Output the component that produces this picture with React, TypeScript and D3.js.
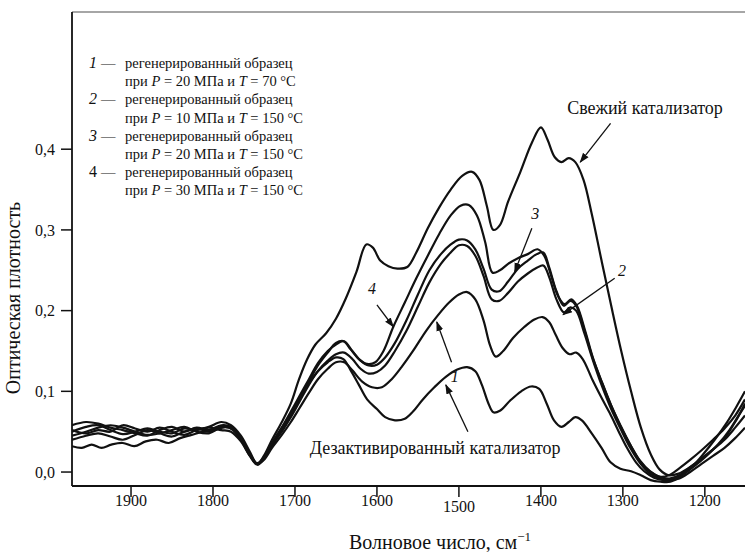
import React from 'react';
import * as d3 from 'd3';

type Pt = [number, number];

const freshCatalyst: Pt[] = [[1972,0.050],[1955,0.056],[1940,0.058],[1925,0.052],[1910,0.047],[1895,0.050],[1880,0.054],[1865,0.050],[1850,0.048],[1835,0.054],[1820,0.052],[1805,0.056],[1790,0.062],[1778,0.058],[1766,0.045],[1755,0.025],[1746,0.010],[1738,0.020],[1728,0.040],[1716,0.062],[1705,0.085],[1695,0.115],[1685,0.140],[1675,0.158],[1662,0.172],[1650,0.19],[1638,0.215],[1625,0.248],[1613,0.282],[1605,0.278],[1596,0.262],[1586,0.255],[1575,0.252],[1563,0.254],[1552,0.272],[1538,0.302],[1524,0.328],[1510,0.350],[1496,0.367],[1484,0.372],[1475,0.362],[1466,0.330],[1458,0.300],[1450,0.306],[1440,0.335],[1425,0.372],[1411,0.408],[1400,0.427],[1392,0.412],[1383,0.390],[1375,0.384],[1366,0.389],[1358,0.384],[1348,0.362],[1338,0.320],[1326,0.262],[1314,0.205],[1302,0.150],[1290,0.100],[1278,0.055],[1266,0.022],[1255,0.003],[1244,-0.004],[1232,-0.002],[1218,0.006],[1204,0.016],[1190,0.028],[1176,0.042],[1163,0.062],[1151,0.085]];

const regen4: Pt[] = [[1972,0.058],[1955,0.062],[1940,0.060],[1925,0.055],[1910,0.052],[1895,0.048],[1880,0.045],[1865,0.052],[1850,0.056],[1835,0.050],[1820,0.055],[1805,0.052],[1790,0.058],[1778,0.056],[1766,0.042],[1755,0.022],[1746,0.010],[1738,0.018],[1728,0.035],[1716,0.055],[1705,0.075],[1694,0.095],[1683,0.115],[1672,0.135],[1660,0.150],[1650,0.158],[1641,0.162],[1632,0.152],[1622,0.140],[1612,0.134],[1602,0.136],[1592,0.150],[1580,0.180],[1566,0.210],[1552,0.240],[1538,0.268],[1524,0.295],[1510,0.318],[1498,0.330],[1488,0.331],[1478,0.318],[1468,0.285],[1459,0.247],[1450,0.250],[1440,0.258],[1428,0.265],[1416,0.270],[1404,0.276],[1396,0.268],[1388,0.245],[1379,0.218],[1371,0.208],[1363,0.214],[1356,0.206],[1346,0.175],[1336,0.140],[1325,0.110],[1314,0.082],[1302,0.055],[1290,0.032],[1278,0.012],[1266,0.000],[1254,-0.006],[1244,-0.004],[1232,0.004],[1218,0.015],[1204,0.027],[1190,0.040],[1176,0.054],[1163,0.070],[1151,0.090]];

const regen3: Pt[] = [[1972,0.045],[1955,0.050],[1940,0.055],[1925,0.058],[1910,0.055],[1895,0.050],[1880,0.046],[1865,0.048],[1850,0.052],[1835,0.056],[1820,0.050],[1805,0.048],[1790,0.055],[1778,0.054],[1766,0.040],[1755,0.020],[1746,0.009],[1738,0.016],[1728,0.032],[1716,0.052],[1705,0.072],[1694,0.092],[1683,0.112],[1672,0.132],[1660,0.148],[1650,0.160],[1640,0.162],[1630,0.150],[1620,0.138],[1610,0.132],[1600,0.133],[1590,0.142],[1578,0.160],[1564,0.188],[1550,0.220],[1536,0.250],[1522,0.270],[1510,0.282],[1500,0.288],[1490,0.287],[1480,0.276],[1470,0.252],[1460,0.226],[1451,0.224],[1440,0.236],[1428,0.252],[1416,0.262],[1405,0.270],[1397,0.272],[1390,0.254],[1381,0.224],[1372,0.206],[1364,0.212],[1357,0.206],[1347,0.176],[1337,0.142],[1326,0.112],[1315,0.084],[1303,0.058],[1291,0.034],[1279,0.014],[1267,0.001],[1255,-0.006],[1243,-0.008],[1231,-0.004],[1218,0.006],[1204,0.017],[1190,0.028],[1176,0.040],[1163,0.055],[1151,0.070]];

const regen2: Pt[] = [[1972,0.052],[1955,0.048],[1940,0.052],[1925,0.050],[1910,0.058],[1895,0.054],[1880,0.050],[1865,0.055],[1850,0.050],[1835,0.046],[1820,0.052],[1805,0.055],[1790,0.052],[1778,0.050],[1766,0.038],[1755,0.020],[1746,0.010],[1738,0.017],[1728,0.034],[1716,0.050],[1705,0.068],[1694,0.088],[1683,0.108],[1672,0.125],[1660,0.138],[1650,0.146],[1640,0.148],[1630,0.140],[1620,0.128],[1610,0.122],[1600,0.124],[1590,0.132],[1578,0.150],[1564,0.175],[1550,0.205],[1536,0.235],[1522,0.258],[1510,0.272],[1500,0.281],[1490,0.280],[1480,0.268],[1470,0.243],[1460,0.214],[1451,0.212],[1440,0.222],[1428,0.236],[1416,0.246],[1405,0.253],[1397,0.256],[1390,0.242],[1381,0.214],[1372,0.198],[1364,0.204],[1357,0.200],[1347,0.172],[1337,0.140],[1326,0.108],[1315,0.080],[1303,0.054],[1291,0.030],[1279,0.011],[1267,-0.002],[1255,-0.008],[1243,-0.010],[1231,-0.008],[1218,0.000],[1204,0.010],[1190,0.020],[1176,0.030],[1163,0.042],[1151,0.055]];

const regen1: Pt[] = [[1972,0.040],[1955,0.045],[1940,0.048],[1925,0.044],[1910,0.040],[1895,0.046],[1880,0.052],[1865,0.048],[1850,0.044],[1835,0.050],[1820,0.054],[1805,0.050],[1790,0.057],[1778,0.055],[1766,0.041],[1755,0.021],[1746,0.010],[1738,0.015],[1728,0.030],[1716,0.046],[1705,0.062],[1694,0.080],[1683,0.098],[1672,0.115],[1660,0.128],[1650,0.136],[1640,0.136],[1630,0.126],[1618,0.112],[1606,0.105],[1594,0.105],[1582,0.115],[1570,0.130],[1556,0.150],[1540,0.175],[1525,0.195],[1512,0.210],[1500,0.220],[1490,0.223],[1480,0.214],[1470,0.188],[1462,0.157],[1455,0.143],[1446,0.150],[1434,0.166],[1420,0.180],[1408,0.189],[1398,0.192],[1390,0.186],[1382,0.170],[1373,0.153],[1365,0.146],[1357,0.148],[1349,0.140],[1337,0.114],[1326,0.092],[1316,0.073],[1305,0.050],[1295,0.030],[1284,0.012],[1274,0.001],[1262,-0.007],[1250,-0.010],[1238,-0.008],[1226,-0.002],[1212,0.008],[1198,0.020],[1184,0.034],[1170,0.052],[1160,0.068],[1151,0.082]];

const deactivated: Pt[] = [[1972,0.032],[1960,0.030],[1948,0.034],[1936,0.030],[1924,0.034],[1910,0.036],[1896,0.032],[1882,0.038],[1868,0.040],[1854,0.036],[1840,0.042],[1826,0.046],[1812,0.050],[1798,0.052],[1785,0.056],[1775,0.052],[1764,0.040],[1755,0.022],[1746,0.011],[1738,0.018],[1728,0.036],[1716,0.055],[1705,0.072],[1694,0.092],[1683,0.110],[1672,0.125],[1660,0.136],[1650,0.142],[1641,0.140],[1632,0.126],[1622,0.108],[1612,0.090],[1600,0.078],[1590,0.068],[1578,0.064],[1566,0.066],[1556,0.075],[1544,0.090],[1530,0.105],[1516,0.118],[1502,0.127],[1490,0.130],[1480,0.125],[1472,0.108],[1464,0.085],[1458,0.074],[1450,0.076],[1438,0.088],[1424,0.100],[1412,0.106],[1402,0.103],[1393,0.085],[1384,0.064],[1375,0.056],[1366,0.062],[1358,0.068],[1350,0.064],[1338,0.048],[1326,0.030],[1315,0.012],[1303,0.004],[1290,0.001],[1278,-0.004],[1266,-0.010],[1254,-0.012],[1242,-0.012],[1230,-0.006],[1216,0.006],[1202,0.022],[1188,0.040],[1174,0.060],[1162,0.080],[1151,0.100]];

const allSeries: Pt[][] = [freshCatalyst, regen4, regen3, regen2, regen1, deactivated];

const xTicks = [1900, 1800, 1700, 1600, 1500, 1400, 1300, 1200];
const yTicks = [0, 0.1, 0.2, 0.3, 0.4];
const yTickLabels = ['0,0', '0,1', '0,2', '0,3', '0,4'];

const legendNums = ['1', '2', '3', '4'];
const legendItalic = [true, true, true, false];
const legendP = ['20', '10', '20', '30'];
const legendT = ['70', '150', '150', '150'];

const callouts: { text: string; italic: boolean; at: Pt; from: Pt; to: Pt }[] = [
  { text: 'Свежий катализатор', italic: false, at: [1273, 0.451], from: [1315, 0.432], to: [1352, 0.384] },
  { text: 'Дезактивированный катализатор', italic: false, at: [1529, 0.030], from: [1489, 0.050], to: [1516, 0.108] },
  { text: '1', italic: true, at: [1505, 0.118], from: [1509, 0.136], to: [1527, 0.186] },
  { text: '4', italic: true, at: [1606, 0.227], from: [1600, 0.207], to: [1580, 0.180] },
  { text: '3', italic: true, at: [1407, 0.321], from: [1411, 0.302], to: [1432, 0.248] },
  { text: '2', italic: true, at: [1301, 0.250], from: [1310, 0.240], to: [1373, 0.195] },
];

const FONT = '"Liberation Serif", "DejaVu Serif", serif';

export default function App() {
  const W = 745, H = 552;
  const x = d3.scaleLinear().domain([1972, 1151]).range([72, 745]);
  const y = d3.scaleLinear().domain([-0.0173, 0.57]).range([486, 12]);
  const line = d3.line<Pt>().x(d => x(d[0])).y(d => y(d[1])).curve(d3.curveCatmullRom.alpha(0.5));

  return (
    <svg width={W} height={H} style={{ position: 'absolute', left: 0, top: 0, background: '#fff' }} fontFamily={FONT}>
      <defs>
        <marker id="ah" viewBox="0 0 10 10" refX="9" refY="5" markerWidth="10" markerHeight="10" orient="auto" markerUnits="userSpaceOnUse">
          <path d="M0,1.5 L10,5 L0,8.5 Z" fill="#111" />
        </marker>
        <clipPath id="plot"><rect x={72} y={12} width={673} height={474} /></clipPath>
      </defs>
      <rect x={0} y={0} width={W} height={H} fill="#fff" />
      <line x1={72} y1={12} x2={745} y2={12} stroke="#888" strokeWidth={1.5} />
      <line x1={72} y1={12} x2={72} y2={486} stroke="#111" strokeWidth={1.8} />
      <line x1={72} y1={486} x2={745} y2={486} stroke="#111" strokeWidth={1.8} />
      {yTicks.map((t, i) => (
        <g key={'y' + t}>
          <line x1={61} x2={72} y1={y(t)} y2={y(t)} stroke="#111" strokeWidth={1.5} />
          <text x={55} y={y(t)} dy="0.35em" textAnchor="end" fontSize={16} fill="#111">{yTickLabels[i]}</text>
        </g>
      ))}
      {xTicks.map(t => (
        <g key={'x' + t}>
          <line x1={x(t)} x2={x(t)} y1={486} y2={497} stroke="#111" strokeWidth={1.5} />
          <text x={x(t)} y={t === 1500 ? 512 : 506} textAnchor="middle" fontSize={16} fill="#111">{t}</text>
        </g>
      ))}
      <text x={440} y={549} textAnchor="middle" fontSize={20} fill="#111">
        Волновое число, см<tspan dy={-8} fontSize={13}>−1</tspan>
      </text>
      <text transform="translate(20,298) rotate(-90)" textAnchor="middle" fontSize={20} fill="#111">Оптическая плотность</text>
      <g clipPath="url(#plot)">
        {allSeries.map((s, i) => (
          <path key={i} d={line(s) || ''} fill="none" stroke="#111" strokeWidth={2.2} strokeLinejoin="round" />
        ))}
      </g>
      {legendNums.map((n, i) => {
        const y0 = 68 + i * 36.4;
        return (
          <g key={'lg' + n} fontSize={14.5} fill="#111">
            <text x={93} y={y0} textAnchor="middle" fontSize={16} fontStyle={legendItalic[i] ? 'italic' : 'normal'}>{n}</text>
            <text x={101} y={y0}>—</text>
            <text x={125} y={y0}>регенерированный образец</text>
            <text x={125} y={y0 + 18.2}>
              при <tspan fontStyle="italic">P</tspan> = {legendP[i]} МПа и <tspan fontStyle="italic">T</tspan> = {legendT[i]} °C
            </text>
          </g>
        );
      })}
      {callouts.map((c, i) => (
        <g key={'c' + i}>
          <line x1={x(c.from[0])} y1={y(c.from[1])} x2={x(c.to[0])} y2={y(c.to[1])} stroke="#111" strokeWidth={1.3} markerEnd="url(#ah)" />
          <text x={x(c.at[0])} y={y(c.at[1])} dy="0.35em" textAnchor="middle" fontSize={c.italic ? 16 : 18} fontStyle={c.italic ? 'italic' : 'normal'} fill="#111">{c.text}</text>
        </g>
      ))}
    </svg>
  );
}
